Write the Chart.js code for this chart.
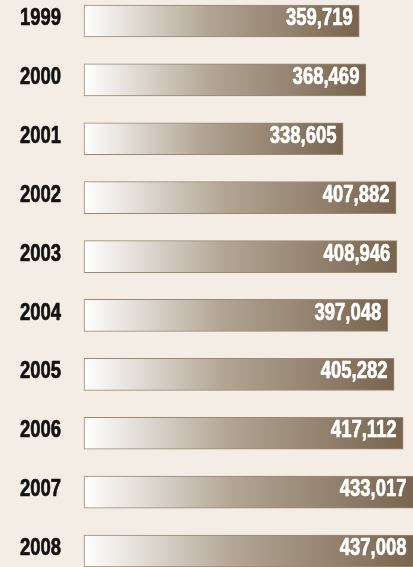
<!DOCTYPE html>
<html>
<head>
<meta charset="utf-8">
<script src="https://cdn.jsdelivr.net/npm/chart.js@4"></script>
<style>
  html, body { margin: 0; padding: 0; background: #f4ede5; }
  #wrap { width: 413px; height: 567px; position: relative; }
</style>
</head>
<body>
<div id="wrap"><canvas id="shipChart"></canvas></div>
<script>
const years = ["1999", "2000", "2001", "2002", "2003", "2004", "2005", "2006", "2007", "2008"];
const totals = [359719, 368469, 338605, 407882, 408946, 397048, 405282, 417112, 433017, 437008];

const labelFont = '"Liberation Sans", Arial, sans-serif';
const squeeze = 0.77; // no condensed face installed, so the text is narrowed by hand

// gradient runs from the base of each bar to its own end
function barFill(context) {
  const chart = context.chart;
  const area = chart.chartArea;
  if (!area || context.raw === undefined) return "#7a6650";
  const end = chart.scales.x.getPixelForValue(context.raw);
  const g = chart.ctx.createLinearGradient(area.left, 0, end, 0);
  g.addColorStop(0, "#ffffff");
  g.addColorStop(0.45, "#b2a594");
  g.addColorStop(1, "#78644e");
  return g;
}

function narrowText(ctx, text, x, y) {
  ctx.save();
  ctx.translate(x, y);
  ctx.scale(squeeze, 1);
  ctx.strokeText(text, 0, 0);
  ctx.fillText(text, 0, 0);
  ctx.restore();
}

const rowLabels = {
  id: "rowLabels",
  afterDatasetsDraw(chart) {
    const ctx = chart.ctx;
    const meta = chart.getDatasetMeta(0);
    const right = chart.chartArea.right;
    const yScale = chart.scales.y;
    ctx.save();
    ctx.font = "bold 24px " + labelFont;
    ctx.textAlign = "right";
    ctx.textBaseline = "middle";
    ctx.lineWidth = 0.7;
    ctx.lineJoin = "round";
    meta.data.forEach((bar, i) => {
      const y = yScale.getPixelForValue(i) - 2.5;
      ctx.fillStyle = ctx.strokeStyle = "#111111";
      narrowText(ctx, years[i], 61, y);
      ctx.fillStyle = ctx.strokeStyle = "#ffffff";
      narrowText(ctx, totals[i].toLocaleString("en-US"), Math.min(bar.x, right) - 6.5, y);
    });
    ctx.restore();
  }
};

const ctx = document.getElementById("shipChart").getContext("2d");
new Chart(ctx, {
  type: "bar",
  data: {
    labels: years,
    datasets: [
      {
        data: totals,
        backgroundColor: barFill,
        borderColor: "rgba(140, 118, 92, 0.85)",
        borderWidth: 1,
        borderSkipped: false,
        barThickness: 32,
        clip: false,
      },
    ],
  },
  options: {
    indexAxis: "y",
    responsive: true,
    maintainAspectRatio: false,
    animation: false,
    layout: { padding: { top: 21, bottom: 16, left: 0, right: 0 } },
    plugins: {
      legend: { display: false },
      tooltip: { enabled: false },
    },
    scales: {
      x: {
        display: false,
        min: 0,
        max: 430000,
      },
      y: {
        offset: false,
        grid: { display: false, drawTicks: false },
        border: { display: false },
        ticks: { display: false },
        afterFit(scale) {
          scale.width = 84;
        },
      },
    },
  },
  plugins: [rowLabels],
});
</script>
</body>
</html>
